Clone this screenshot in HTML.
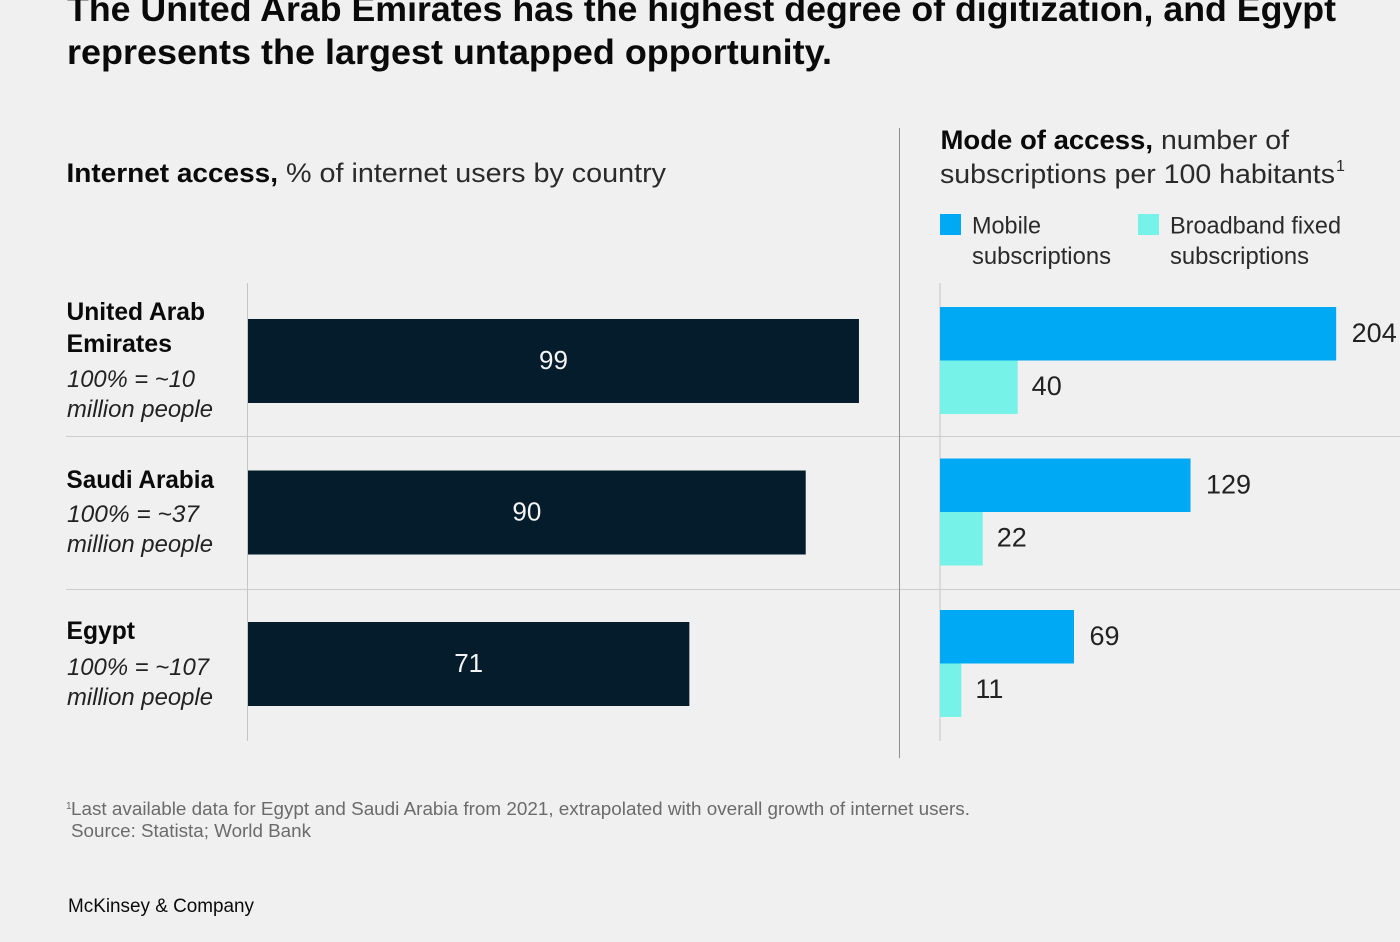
<!DOCTYPE html>
<html lang="en">
<head>
<meta charset="utf-8">
<title>Internet access and mode of access by country</title>
<style>
html,body{margin:0;padding:0;background:#f0f0f0;}
svg{display:block;font-family:"Liberation Sans",sans-serif;}
.b{font-weight:700;fill:#0a0a0a;}
.r{fill:#2a2a2a;}
.i{font-style:italic;fill:#222;font-size:24px;}
</style>
</head>
<body>
<svg id="chart" width="1400" height="942" viewBox="0 0 1400 942" xmlns="http://www.w3.org/2000/svg">
<rect width="1400" height="942" fill="#f0f0f0"/>

<g>
<text class="b" x="67" y="21" font-size="35" textLength="1269" lengthAdjust="spacingAndGlyphs">The United Arab Emirates has the highest degree of digitization, and Egypt</text>
<text class="b" x="67" y="64" font-size="35" textLength="765" lengthAdjust="spacingAndGlyphs">represents the largest untapped opportunity.</text>
</g>

<g>
<text class="b" x="66.5" y="182" font-size="27" textLength="211.5" lengthAdjust="spacingAndGlyphs">Internet access,</text>
<text class="r" x="286" y="182" font-size="27" textLength="380" lengthAdjust="spacingAndGlyphs">% of internet users by country</text>
</g>

<g>
<text class="b" x="940.5" y="149" font-size="27" textLength="212.5" lengthAdjust="spacingAndGlyphs">Mode of access,</text>
<text class="r" x="1161" y="149" font-size="27" textLength="128" lengthAdjust="spacingAndGlyphs">number of</text>
<text class="r" x="940" y="183" font-size="27" textLength="395" lengthAdjust="spacingAndGlyphs">subscriptions per 100 habitants</text>
<text class="r" x="1336" y="171" font-size="16">1</text>
</g>

<g>
<g>
<rect x="940" y="214" width="21" height="21" fill="#00a9f4"/>
<text class="r" x="972" y="233.5" font-size="24" textLength="69" lengthAdjust="spacingAndGlyphs">Mobile</text>
<text class="r" x="972" y="264" font-size="24" textLength="139" lengthAdjust="spacingAndGlyphs">subscriptions</text>
</g>
<g>
<rect x="1138" y="214" width="21" height="21" fill="#76f2e8"/>
<text class="r" x="1170" y="233.5" font-size="24" textLength="171" lengthAdjust="spacingAndGlyphs">Broadband fixed</text>
<text class="r" x="1170" y="264" font-size="24" textLength="139" lengthAdjust="spacingAndGlyphs">subscriptions</text>
</g>
</g>

<g>
<line x1="66" x2="1400" y1="436.5" y2="436.5" stroke="#cdcdcd" stroke-width="1"/>
<line x1="66" x2="1400" y1="589.5" y2="589.5" stroke="#cdcdcd" stroke-width="1"/>
<line x1="247.5" x2="247.5" y1="283" y2="741" stroke="#c6c6c6" stroke-width="1"/>
<line x1="940" x2="940" y1="283" y2="741" stroke="#c6c6c6" stroke-width="1"/>
<line x1="899.5" x2="899.5" y1="128" y2="758" stroke="#8f8f8f" stroke-width="1"/>
</g>

<g>
<text class="b" x="66.5" y="320" font-size="25" textLength="138.5" lengthAdjust="spacingAndGlyphs">United Arab</text>
<text class="b" x="66.5" y="352" font-size="25" textLength="105.5" lengthAdjust="spacingAndGlyphs">Emirates</text>
<text class="i" x="67" y="387" textLength="128" lengthAdjust="spacingAndGlyphs">100% = ~10</text>
<text class="i" x="67" y="417" textLength="146" lengthAdjust="spacingAndGlyphs">million people</text>

<text class="b" x="66.5" y="488" font-size="25" textLength="147.5" lengthAdjust="spacingAndGlyphs">Saudi Arabia</text>
<text class="i" x="67" y="522" textLength="132" lengthAdjust="spacingAndGlyphs">100% = ~37</text>
<text class="i" x="67" y="552" textLength="146" lengthAdjust="spacingAndGlyphs">million people</text>

<text class="b" x="66.5" y="639" font-size="25" textLength="68.5" lengthAdjust="spacingAndGlyphs">Egypt</text>
<text class="i" x="67" y="675" textLength="142" lengthAdjust="spacingAndGlyphs">100% = ~107</text>
<text class="i" x="67" y="705" textLength="146" lengthAdjust="spacingAndGlyphs">million people</text>
</g>

<g id="left-bars"></g>
<g id="right-bars"></g>

<g>
<text x="66" y="809" font-size="10" fill="#6b6b6b">1</text>
<text x="71" y="815" font-size="18" fill="#6b6b6b" textLength="899" lengthAdjust="spacingAndGlyphs">Last available data for Egypt and Saudi Arabia from 2021, extrapolated with overall growth of internet users.</text>
<text x="71" y="837" font-size="18" fill="#6b6b6b" textLength="240" lengthAdjust="spacingAndGlyphs">Source: Statista; World Bank</text>
</g>
<text x="68" y="912" font-size="19" fill="#0a0a0a" textLength="186" lengthAdjust="spacingAndGlyphs">McKinsey &amp; Company</text>
</svg>

<script>
const countries = ["United Arab Emirates", "Saudi Arabia", "Egypt"];
const internetPct = [98.7, 90.1, 71.3];
const mobileSubs = [204, 129, 69];
const broadbandSubs = [40, 22, 11];

const NS = "http://www.w3.org/2000/svg";
const xLeft = v => 248 + v * 6.19;
const xRight = v => 940 + v * 1.942;
const rowCenter = i => 361 + i * 151.5;
const leftGroup = document.getElementById("left-bars");
const rightGroup = document.getElementById("right-bars");
const slug = s => s.toLowerCase().replace(/\s+/g, "-");

function makeRect(parent, x, y, w, h, fill) {
  const r = document.createElementNS(NS, "rect");
  r.setAttribute("x", x);
  r.setAttribute("y", y);
  r.setAttribute("width", Math.max(0, w));
  r.setAttribute("height", h);
  r.setAttribute("fill", fill);
  parent.appendChild(r);
  return r;
}
function makeText(parent, x, y, str, fill, anchor, size) {
  const t = document.createElementNS(NS, "text");
  t.setAttribute("x", x);
  t.setAttribute("y", y);
  t.setAttribute("font-size", size);
  t.setAttribute("fill", fill);
  t.setAttribute("text-anchor", anchor);
  t.textContent = str;
  parent.appendChild(t);
  return t;
}

countries.forEach((country, i) => {
  const c = rowCenter(i);
  const key = slug(country);

  const bar = makeRect(leftGroup, xLeft(0), c - 42, xLeft(internetPct[i]) - xLeft(0), 84, "#051c2c");
  
  
  const barLabel = makeText(leftGroup, (xLeft(0) + xLeft(internetPct[i])) / 2, c + 8, Math.round(internetPct[i]), "#f4f4f4", "middle", 26);
  
  

  const mobile = makeRect(rightGroup, xRight(0), c - 54, xRight(mobileSubs[i]) - xRight(0), 53.5, "#00a9f4");
  
  
  const mobileLabel = makeText(rightGroup, xRight(mobileSubs[i]) + 15.5, c - 19, mobileSubs[i], "#222", "start", 27);
  
  

  const broadband = makeRect(rightGroup, xRight(0), c - 0.5, xRight(broadbandSubs[i]) - xRight(0), 53.5, "#76f2e8");
  
  
  const broadbandLabel = makeText(rightGroup, xRight(broadbandSubs[i]) + 14, c + 34, broadbandSubs[i], "#222", "start", 27);
  
  
});
</script>
</body>
</html>
